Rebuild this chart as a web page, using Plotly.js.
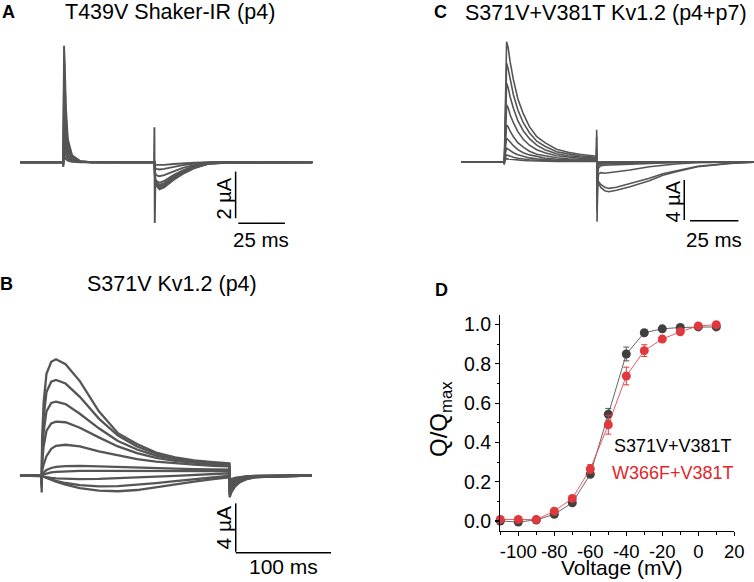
<!DOCTYPE html>
<html><head><meta charset="utf-8">
<script src="https://cdn.plot.ly/plotly-3.0.1.min.js"></script>
<style>html,body{margin:0;padding:0;background:#fff}</style>
</head><body><div id="chart" style="width:754px;height:582px"></div>
<script>
// ---------- Panel A : T439V Shaker-IR (p4) gating currents (time ms, current µA)
const tA = [-23.2, -0.3, 0, 0.4, 0.8, 1.3, 2.4, 4.7, 9, 15, 30, 48.6, 48.8, 49.0, 49.3, 49.8, 51.5, 54, 59, 64, 70, 78, 90, 133.4];
const A1 = [0, 0, -0.2, 5.0, 4.2, 2.5, 1.0, 0.3, 0.05, 0, 0, 0, 1.5, -2.6, -0.9, -1.0, -1.16, -1.08, -0.76, -0.5, -0.26, -0.06, -0.01, 0];
const A2 = [0, 0, -0.15, 4.4, 3.6, 2.1, 0.85, 0.26, 0.05, 0, 0, 0, 0, -0.5, -0.95, -1.0, -1.1, -1.02, -0.72, -0.47, -0.24, -0.05, -0.01, 0];
const A3 = [0, 0, -0.1, 3.6, 3.0, 1.7, 0.7, 0.22, 0.04, 0, 0, 0, 0, -0.4, -0.9, -0.95, -1.04, -0.96, -0.67, -0.43, -0.22, -0.05, -0.01, 0];
const A4 = [0, 0, -0.1, 2.8, 2.3, 1.3, 0.55, 0.18, 0.03, 0, 0, 0, 0, -0.35, -0.82, -0.88, -0.97, -0.89, -0.62, -0.4, -0.2, -0.04, -0.01, 0];
const A5 = [0, 0, -0.05, 2.0, 1.6, 0.95, 0.4, 0.13, 0.02, 0, 0, 0, 0, -0.3, -0.72, -0.8, -0.88, -0.8, -0.55, -0.35, -0.17, -0.03, 0, 0];
const A6 = [0, 0, -0.05, 1.3, 1.0, 0.6, 0.26, 0.08, 0.01, 0, 0, 0, 0, -0.2, -0.48, -0.55, -0.6, -0.55, -0.38, -0.24, -0.12, -0.02, 0, 0];
const A7 = [0, 0, 0, 0.7, 0.55, 0.33, 0.15, 0.05, 0.01, 0, 0, 0, 0, -0.1, -0.25, -0.28, -0.31, -0.28, -0.19, -0.12, -0.06, -0.01, 0, 0];
const A8 = [0, 0, 0, 0.3, 0.24, 0.15, 0.07, 0.02, 0, 0, 0, 0, 0, -0.04, -0.1, -0.11, -0.12, -0.11, -0.07, -0.04, -0.02, 0, 0, 0];
const barA_t = [92.3, 92.3, null, 93.7, 118.7];
const barA_i = [-0.4, -2.4, null, -2.62, -2.62];

// ---------- Panel C : S371V+V381T Kv1.2 (p4+p7)
const tC = [-22.4, -0.2, 0, 0.6, 1.2, 2.0, 3.0, 4.7, 7, 9.8, 13, 16.8, 21, 27, 33, 39, 46, 47.6, 47.8, 48.0, 48.3, 48.8, 50, 52, 54, 58, 65, 75, 82, 90, 100, 117, 129.2];
const C1 = [0, 0, -0.3, 8.0, 12.0, 11.4, 10.0, 8.2, 6.3, 4.8, 3.5, 2.5, 1.9, 1.25, 0.95, 0.75, 0.58, 0.55, 3.2, -6.0, -2.0, -2.2, -2.6, -2.9, -3.0, -2.85, -2.5, -1.9, -1.35, -0.95, -0.5, -0.17, -0.05];
const C2 = [0, 0, -0.25, 6.5, 9.84, 9.3, 8.2, 6.7, 5.2, 3.9, 2.9, 2.05, 1.55, 1.0, 0.78, 0.6, 0.47, 0.45, 2.5, -5.0, -1.8, -2.0, -2.3, -2.55, -2.67, -2.55, -2.2, -1.65, -1.2, -0.85, -0.45, -0.15, -0.04];
const C3 = [0, 0, -0.2, 5.2, 7.84, 7.4, 6.5, 5.35, 4.1, 3.1, 2.3, 1.65, 1.2, 0.8, 0.6, 0.48, 0.38, 0.36, 1.5, -3.5, -2.2, -1.2, -1.1, -1.16, -1.12, -1.0, -0.83, -0.5, -0.33, -0.2, -0.1, -0.03, 0];
const C4 = [0, 0, -0.15, 3.8, 5.67, 5.4, 4.7, 3.9, 3.0, 2.25, 1.65, 1.2, 0.9, 0.6, 0.45, 0.35, 0.28, 0.27, 0.8, -2.5, -1.2, -0.6, -0.4, -0.35, -0.33, -0.3, -0.25, -0.17, -0.12, -0.08, -0.04, -0.01, 0];
const C5 = [0, 0, -0.1, 2.4, 3.67, 3.5, 3.05, 2.5, 1.9, 1.45, 1.05, 0.75, 0.58, 0.4, 0.3, 0.23, 0.18, 0.17, 0.4, -1.8, -0.8, -0.35, -0.25, -0.22, -0.2, -0.18, -0.15, -0.1, -0.07, -0.05, -0.02, 0, 0];
const C6 = [0, 0, -0.05, 1.5, 2.34, 2.2, 1.95, 1.6, 1.2, 0.9, 0.68, 0.5, 0.37, 0.25, 0.18, 0.15, 0.12, 0.11, 0.2, -1.2, -0.5, -0.22, -0.15, -0.13, -0.12, -0.11, -0.09, -0.06, -0.04, -0.03, -0.01, 0, 0];
const C7 = [0, 0, 0, 0.9, 1.34, 1.25, 1.1, 0.9, 0.7, 0.53, 0.38, 0.28, 0.2, 0.14, 0.1, 0.08, 0.06, 0.06, 0.1, -0.7, -0.3, -0.12, -0.09, -0.08, -0.07, -0.06, -0.05, -0.03, -0.02, -0.01, 0, 0, 0];
const C8 = [0, 0, 0, 0.45, 0.67, 0.62, 0.55, 0.45, 0.35, 0.26, 0.19, 0.14, 0.1, 0.07, 0.05, 0.04, 0.03, 0.03, 0.05, -0.35, -0.15, -0.06, -0.05, -0.04, -0.04, -0.03, -0.02, -0.02, -0.01, 0, 0, 0, 0];
const C9 = [0, 0, 0, 0.2, 0.3, 0.28, 0.25, 0.2, 0.16, 0.12, 0.09, 0.06, 0.05, 0.03, 0.02, 0.02, 0.01, 0.01, 0.02, -0.15, -0.06, -0.03, -0.02, -0.02, -0.02, -0.01, -0.01, 0, 0, 0, 0, 0, 0];
const barC_t = [93.1, 93.1, null, 96.1, 121.1];
const barC_i = [-1.83, -5.83, null, -5.9, -5.9];

// ---------- Panel B : S371V Kv1.2 (p4)
const tB = [-22.8, -0.3, 0, 0.4, 2, 5, 10, 15, 25, 40, 60, 80, 100, 120, 140, 160, 180, 196.8, 197.2, 199, 203, 208, 215, 224, 240, 283.6];
const B1 = [0, 0, -1.4, 3.0, 6.0, 8.4, 9.4, 9.6, 9.2, 7.8, 5.3, 3.5, 2.6, 1.9, 1.5, 1.25, 1.1, 1.0, -1.8, -1.4, -0.9, -0.55, -0.3, -0.15, -0.1, 0];
const B2 = [0, 0, -1.0, 2.0, 4.8, 6.9, 7.75, 7.9, 7.6, 6.5, 4.7, 3.3, 2.4, 1.8, 1.45, 1.2, 1.05, 0.95, -1.6, -1.25, -0.8, -0.5, -0.28, -0.14, -0.1, 0];
const B3 = [0, 0, -0.8, 1.5, 3.6, 5.3, 6.0, 6.1, 5.9, 5.1, 3.9, 2.85, 2.15, 1.65, 1.35, 1.12, 1.0, 0.9, -1.45, -1.1, -0.72, -0.45, -0.25, -0.13, -0.08, 0];
const B4 = [0, 0, -0.6, 1.0, 2.4, 3.7, 4.3, 4.45, 4.4, 3.95, 3.15, 2.4, 1.85, 1.45, 1.2, 1.02, 0.9, 0.82, -1.3, -1.0, -0.65, -0.4, -0.22, -0.12, -0.08, 0];
const B5 = [0, 0, -0.4, 0.4, 0.9, 1.6, 2.2, 2.45, 2.54, 2.4, 2.0, 1.65, 1.35, 1.15, 1.0, 0.9, 0.8, 0.75, -1.1, -0.85, -0.55, -0.35, -0.2, -0.1, -0.06, 0];
const B6 = [0, 0, -0.3, 0.1, 0.25, 0.45, 0.62, 0.72, 0.78, 0.8, 0.76, 0.7, 0.65, 0.6, 0.56, 0.53, 0.5, 0.48, -0.9, -0.7, -0.45, -0.28, -0.16, -0.08, -0.05, 0];
const B7 = [0, 0, -0.2, 0.05, 0.1, 0.18, 0.26, 0.3, 0.35, 0.38, 0.38, 0.37, 0.36, 0.35, 0.35, 0.35, 0.36, 0.38, -0.7, -0.55, -0.35, -0.22, -0.12, -0.06, -0.04, 0];
const B8 = [0, 0, -0.1, -0.05, -0.1, -0.15, -0.2, -0.24, -0.28, -0.3, -0.28, -0.24, -0.18, -0.1, -0.03, 0.05, 0.12, 0.18, -0.55, -0.42, -0.27, -0.17, -0.1, -0.05, -0.03, 0];
const B9 = [0, 0, -0.05, -0.05, -0.1, -0.2, -0.33, -0.45, -0.62, -0.8, -0.9, -0.88, -0.78, -0.63, -0.47, -0.3, -0.15, -0.02, -0.45, -0.35, -0.22, -0.14, -0.08, -0.04, -0.02, 0];
const B10 = [0, 0, -0.05, -0.05, -0.1, -0.2, -0.35, -0.5, -0.75, -1.05, -1.25, -1.3, -1.2, -0.95, -0.75, -0.5, -0.3, -0.15, -0.4, -0.3, -0.2, -0.12, -0.07, -0.03, -0.02, 0];
const barB_t = [203.6, 203.6, null, 203.6, 303.6];
const barB_i = [-2.3, -6.3, null, -6.38, -6.38];

// ---------- Panel D : Q/Qmax vs voltage
const voltage = [-110, -100, -90, -80, -70, -60, -50, -40, -30, -20, -10, 0, 10];
const qS371V = [0.0, -0.005, 0.005, 0.034, 0.093, 0.238, 0.543, 0.85, 0.958, 0.978, 0.985, 0.988, 0.988];
const errS371V = [0.005, 0.008, 0.005, 0.008, 0.01, 0.012, 0.03, 0.035, 0.012, 0.01, 0.008, 0.006, 0.006];
const qW366F = [0.008, 0.008, 0.007, 0.05, 0.115, 0.265, 0.49, 0.738, 0.867, 0.926, 0.963, 0.993, 0.999];
const errW366F = [0.006, 0.006, 0.005, 0.01, 0.015, 0.022, 0.048, 0.045, 0.03, 0.012, 0.01, 0.008, 0.006];
const xTickVals = [-100, -80, -60, -40, -20, 0, 20];
const xTickText = ['-100', '-80', '-60', '-40', '-20', '0', '20'];
const xMinorVals = [-110, -90, -70, -50, -30, -10, 10];
const yTickVals = [0, 0.2, 0.4, 0.6, 0.8, 1.0];
const yTickText = ['0.0', '0.2', '0.4', '0.6', '0.8', '1.0'];
const yMinorVals = [0.1, 0.3, 0.5, 0.7, 0.9];

// ---------- layout helpers (pixel geometry of the figure)
const W = 754, H = 582;
const FONT = 'Liberation Sans, Arial, sans-serif';
function hAxis(px0, px1, origin, scale) {
  return {domain: [px0 / W, px1 / W], range: [(px0 - origin) / scale, (px1 - origin) / scale],
          visible: false, showgrid: false, zeroline: false, fixedrange: true};
}
function vAxis(py0, py1, origin, scale) {
  return {domain: [1 - py1 / H, 1 - py0 / H], range: [(origin - py1) / scale, (origin - py0) / scale],
          visible: false, showgrid: false, zeroline: false, fixedrange: true};
}
function ann(text, px, py, o) {
  o = o || {};
  return Object.assign({text: text, x: px / W, y: 1 - py / H, xref: 'paper', yref: 'paper',
    showarrow: false, xanchor: 'center', yanchor: 'middle',
    font: {family: FONT, size: 20, color: '#000'}}, o);
}

const TRACE_COLOR = '#555555';
const traces = [];
function addSweeps(t, list, xa, ya, w) {
  list.forEach(function (s) {
    traces.push({x: t, y: s, xaxis: xa, yaxis: ya, type: 'scatter', mode: 'lines',
      line: {color: TRACE_COLOR, width: w}, hoverinfo: 'skip'});
  });
}
addSweeps(tA, [A8, A7, A6, A5, A4, A3, A2, A1], 'x', 'y', 1.9);
addSweeps(tC, [C9, C8, C7, C6, C5, C4, C3, C2, C1], 'x2', 'y2', 1.6);
addSweeps(tB, [B10, B9, B8, B7, B6, B5, B4, B3, B2, B1], 'x3', 'y3', 2.3);
[[barA_t, barA_i, 'x', 'y'], [barC_t, barC_i, 'x2', 'y2'], [barB_t, barB_i, 'x3', 'y3']].forEach(function (b) {
  traces.push({x: b[0], y: b[1], xaxis: b[2], yaxis: b[3], type: 'scatter', mode: 'lines',
    line: {color: '#000', width: 1.5}, connectgaps: false, hoverinfo: 'skip'});
});

// panel D series
traces.push({x: voltage, y: qS371V, xaxis: 'x4', yaxis: 'y4', type: 'scatter', mode: 'lines+markers',
  line: {color: '#555555', width: 0.9}, marker: {color: '#404040', size: 9},
  error_y: {type: 'data', array: errS371V, color: '#555555', thickness: 1, width: 3},
  cliponaxis: false, name: 'S371V+V381T'});
traces.push({x: voltage, y: qW366F, xaxis: 'x4', yaxis: 'y4', type: 'scatter', mode: 'lines+markers',
  line: {color: '#e8484b', width: 0.9}, marker: {color: '#e0383c', size: 9},
  error_y: {type: 'data', array: errW366F, color: '#e0383c', thickness: 1, width: 3},
  cliponaxis: false, name: 'W366F+V381T'});

const layout = {
  width: W, height: H, margin: {l: 0, r: 0, t: 0, b: 0},
  paper_bgcolor: '#fff', plot_bgcolor: 'rgba(0,0,0,0)', showlegend: false,
  font: {family: FONT, color: '#000'},
  xaxis: Object.assign(hAxis(0, 380, 63.3, 1.867), {anchor: 'y'}),
  yaxis: Object.assign(vAxis(20, 250, 162.3, 23.3), {anchor: 'x'}),
  xaxis2: Object.assign(hAxis(440, 754, 504.3, 1.933), {anchor: 'y2'}),
  yaxis2: Object.assign(vAxis(20, 250, 161.7, 10.0), {anchor: 'x2'}),
  xaxis3: Object.assign(hAxis(0, 380, 41.7, 0.953), {anchor: 'y3'}),
  yaxis3: Object.assign(vAxis(300, 580, 475.5, 12.1), {anchor: 'x3'}),
  xaxis4: {domain: [500.3 / W, 734.3 / W], range: [-110, 20], anchor: 'y4',
    showline: true, linecolor: '#000', linewidth: 1.3, showgrid: false, zeroline: false,
    ticks: 'outside', ticklen: 4, tickwidth: 1.2, tickcolor: '#000',
    tickmode: 'array', tickvals: xTickVals, ticktext: xTickText,
    minor: {tickmode: 'array', tickvals: xMinorVals, ticks: 'outside', ticklen: 2.5, tickwidth: 1, tickcolor: '#000', showgrid: false},
    tickfont: {family: FONT, size: 18.5, color: '#000'}, fixedrange: true},
  yaxis4: {domain: [1 - 530.8 / H, 1 - 314.7 / H], range: [-0.05, 1.05], anchor: 'x4',
    showline: true, linecolor: '#000', linewidth: 1.3, showgrid: false, zeroline: false,
    ticks: 'outside', ticklen: 4, tickwidth: 1.2, tickcolor: '#000',
    tickmode: 'array', tickvals: yTickVals, ticktext: yTickText,
    minor: {tickmode: 'array', tickvals: yMinorVals, ticks: 'outside', ticklen: 2.5, tickwidth: 1, tickcolor: '#000', showgrid: false},
    tickfont: {family: FONT, size: 19.5, color: '#000'}, fixedrange: true},
  annotations: [
    ann('<b>A</b>', 8.5, 11.5, {font: {family: FONT, size: 18, color: '#000'}}),
    ann('T439V Shaker-IR (p4)', 63, 12, {xanchor: 'left', font: {family: FONT, size: 21.5, color: '#000'}}),
    ann('<b>C</b>', 440, 12, {font: {family: FONT, size: 18, color: '#000'}}),
    ann('S371V+V381T Kv1.2 (p4+p7)', 463, 12.5, {xanchor: 'left', font: {family: FONT, size: 21.5, color: '#000'}}),
    ann('<b>B</b>', 6.5, 283.5, {font: {family: FONT, size: 18, color: '#000'}}),
    ann('S371V Kv1.2 (p4)', 85, 283.5, {xanchor: 'left', font: {family: FONT, size: 21.5, color: '#000'}}),
    ann('<b>D</b>', 441, 290, {font: {family: FONT, size: 18, color: '#000'}}),
    ann('2 µA', 223, 198.5, {textangle: -90}),
    ann('25 ms', 261, 239.5, {font: {family: FONT, size: 20.5, color: '#000'}}),
    ann('4 µA', 672.5, 202, {textangle: -90}),
    ann('25 ms', 714, 239.5, {font: {family: FONT, size: 20.5, color: '#000'}}),
    ann('4 µA', 223, 527.5, {textangle: -90, font: {family: FONT, size: 21, color: '#000'}}),
    ann('100 ms', 283, 566, {font: {family: FONT, size: 21, color: '#000'}}),
    ann('Q/Q<sub>max</sub>', 440, 419, {textangle: -90, font: {family: FONT, size: 24, color: '#000'}}),
    ann('Voltage (mV)', 621, 567, {font: {family: FONT, size: 21, color: '#000'}}),
    ann('S371V+V381T', 611.7, 445.7, {xanchor: 'left', font: {family: FONT, size: 18, color: '#000'}}),
    ann('W366F+V381T', 610, 472.7, {xanchor: 'left', font: {family: FONT, size: 18, color: '#e0262b'}})
  ]
};

Plotly.newPlot('chart', traces, layout, {displayModeBar: false, staticPlot: true});
</script></body></html>
